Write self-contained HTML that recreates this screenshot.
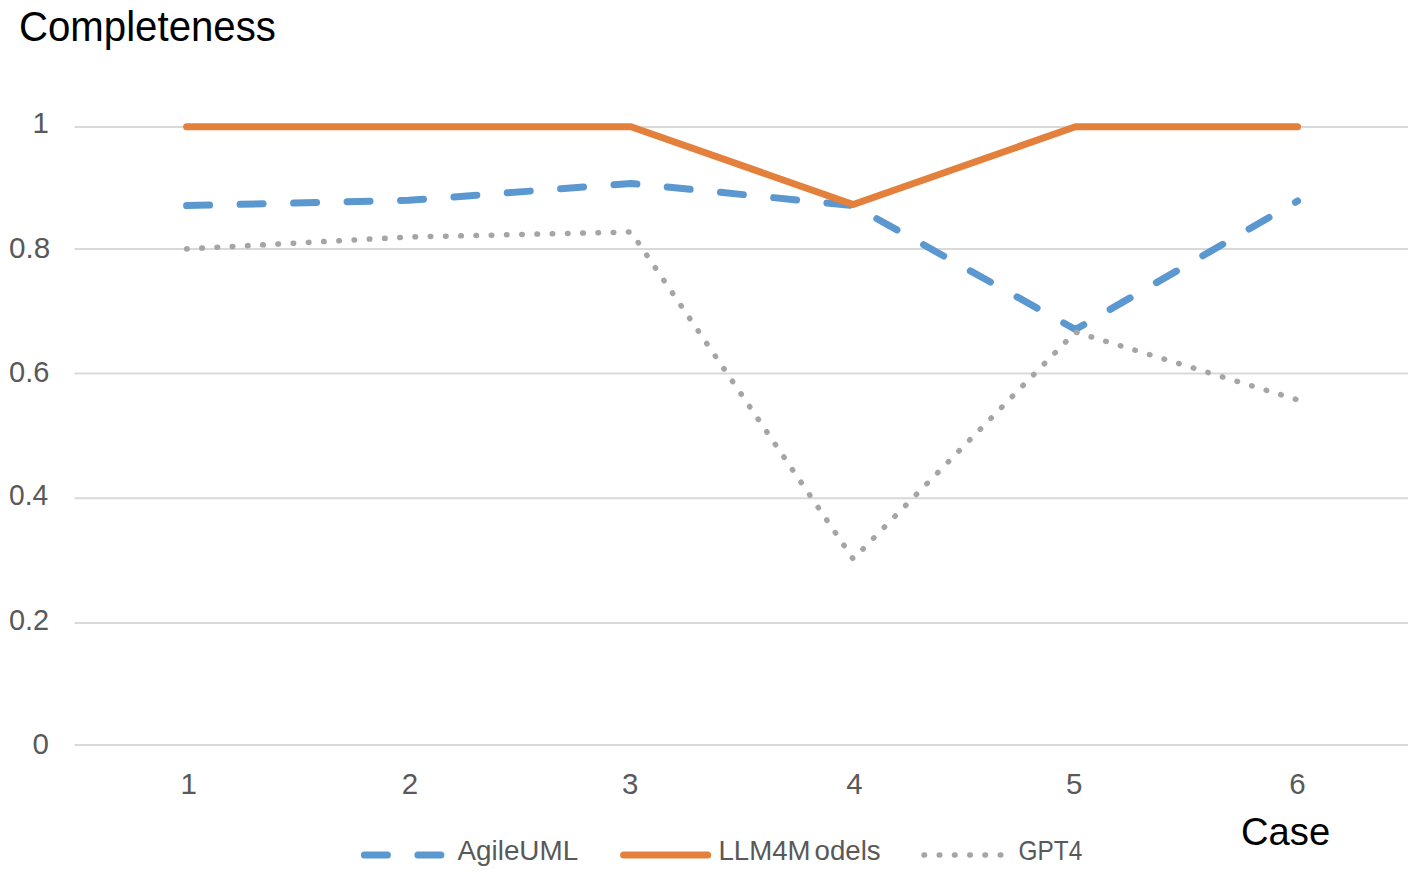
<!DOCTYPE html>
<html><head><meta charset="utf-8"><title>Completeness</title>
<style>
html,body{margin:0;padding:0;background:#fff;}
body{width:1417px;height:883px;overflow:hidden;}
svg{display:block;font-family:"Liberation Sans", sans-serif;}
</style></head>
<body>
<svg width="1417" height="883" viewBox="0 0 1417 883">
<rect width="1417" height="883" fill="#fff"/>
<g stroke="#d9d9d9" stroke-width="2">
<line x1="74.5" y1="127" x2="1408" y2="127" />
<line x1="74.5" y1="249" x2="1408" y2="249" />
<line x1="74.5" y1="373.6" x2="1408" y2="373.6" />
<line x1="74.5" y1="498.3" x2="1408" y2="498.3" />
<line x1="74.5" y1="623" x2="1408" y2="623" />
<line x1="74.5" y1="745.1" x2="1408" y2="745.1" />
</g>
<text x="19.00" y="41.30" font-size="42.5" fill="#000" textLength="256.87" lengthAdjust="spacingAndGlyphs">Completeness</text>
<text x="32.60" y="133.10" font-size="29.5" fill="#595959">1</text>
<text x="9.00" y="257.60" font-size="29.5" fill="#595959" textLength="41.27" lengthAdjust="spacingAndGlyphs">0.8</text>
<text x="9.00" y="382.40" font-size="29.5" fill="#595959" textLength="40.41" lengthAdjust="spacingAndGlyphs">0.6</text>
<text x="9.00" y="504.50" font-size="29.5" fill="#595959" textLength="39.16" lengthAdjust="spacingAndGlyphs">0.4</text>
<text x="9.00" y="629.50" font-size="29.5" fill="#595959" textLength="40.19" lengthAdjust="spacingAndGlyphs">0.2</text>
<text x="32.60" y="753.80" font-size="29.5" fill="#595959">0</text>
<text x="180.50" y="794.40" font-size="29.5" fill="#595959">1</text>
<text x="401.80" y="794.40" font-size="29.5" fill="#595959">2</text>
<text x="622.00" y="794.40" font-size="29.5" fill="#595959">3</text>
<text x="846.30" y="794.40" font-size="29.5" fill="#595959">4</text>
<text x="1066.10" y="794.40" font-size="29.5" fill="#595959">5</text>
<text x="1289.30" y="794.40" font-size="29.5" fill="#595959">6</text>
<text x="1241.00" y="845.40" font-size="39" fill="#000" textLength="89.18" lengthAdjust="spacingAndGlyphs">Case</text>
<text x="457.50" y="860.30" font-size="27.5" fill="#595959" textLength="120.63" lengthAdjust="spacingAndGlyphs">AgileUML</text>
<text x="718.50" y="860.30" font-size="27.5" fill="#595959" textLength="162.17" lengthAdjust="spacingAndGlyphs">LLM4M<tspan dx="4">odels</tspan></text>
<text x="1018.50" y="860.30" font-size="27.5" fill="#595959" textLength="63.74" lengthAdjust="spacingAndGlyphs">GPT4</text>
<g fill="none" stroke-linejoin="round">
<polyline points="186.60,205.60 408.80,200.30 631.00,183.50 853.20,205.50 1075.40,329.50 1297.60,201.00" stroke="#5b98d0" stroke-width="7" stroke-linecap="round" stroke-dasharray="23 30.5"/>
<polyline points="186.60,126.80 408.80,126.80 631.00,126.80 853.20,204.50 1075.40,126.80 1297.60,126.80" stroke="#e3813c" stroke-width="7" stroke-linecap="round"/>
<polyline points="186.60,248.90 408.80,237.00 631.00,232.00 853.20,559.00 1075.40,332.00 1297.60,399.80" stroke="#a5a5a5" stroke-width="5.5" stroke-linecap="round" stroke-dasharray="0.5 14.75"/>
</g>
<g fill="none">
<line x1="364.4" y1="855" x2="441" y2="855" stroke="#5b98d0" stroke-width="7" stroke-linecap="round" stroke-dasharray="23 30.5"/>
<line x1="623.6" y1="855" x2="707.7" y2="855" stroke="#e3813c" stroke-width="7" stroke-linecap="round"/>
<line x1="924" y1="855" x2="1001" y2="855" stroke="#a5a5a5" stroke-width="5.5" stroke-linecap="round" stroke-dasharray="0.5 14.75"/>
</g>
</svg>
</body></html>
